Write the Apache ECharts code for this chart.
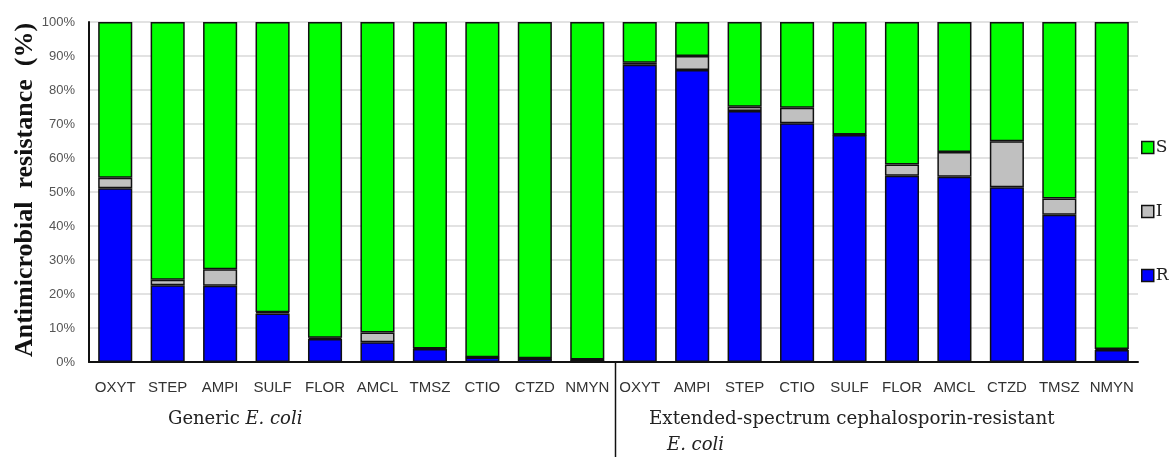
<!DOCTYPE html>
<html>
<head>
<meta charset="utf-8">
<script src="https://cdn.jsdelivr.net/npm/echarts@6/dist/echarts.min.js"></script>
<style>
html,body{margin:0;padding:0;background:#fff;}
#chart{width:1173px;height:457px;}
</style>
</head>
<body>
<div id="chart"></div>
<script>
const categories = ['OXYT','STEP','AMPI','SULF','FLOR','AMCL','TMSZ','CTIO','CTZD','NMYN',
                    'OXYT','AMPI','STEP','CTIO','SULF','FLOR','AMCL','CTZD','TMSZ','NMYN'];
const resistant    = [51.1, 22.6, 22.4, 14.3, 6.8, 5.8, 3.8, 1.3, 1.0, 0.6,
                      87.4, 85.9, 73.8, 70.2, 66.8, 54.8, 54.5, 51.4, 43.3, 3.5];
const intermediate = [3.1, 1.6, 4.9, 0.3, 0.3, 2.9, 0.2, 0.1, 0.1, 0.1,
                      0.6, 4.1, 1.3, 4.6, 0.1, 3.3, 7.3, 13.5, 4.8, 0.3];
const susceptible  = resistant.map((r, i) => +(100 - r - intermediate[i]).toFixed(1));
const yTicks = [0,10,20,30,40,50,60,70,80,90,100];
const groupLabels = ['Generic', 'Extended-spectrum cephalosporin-resistant'];

const chart = echarts.init(document.getElementById('chart'));
const barBorder = {borderColor:'#111', borderWidth:1.5};
const option = {
  animation:false,
  grid:{left:89, right:35, top:22, bottom:95},
  legend:{
    orient:'vertical', left:1136, top:134,
    data:['S','I','R'],
    itemWidth:12, itemHeight:12, itemGap:47,
    icon:'rect',
    itemStyle:{borderColor:'#111', borderWidth:1.5},
    textStyle:{fontFamily:'DejaVu Serif', fontSize:17, color:'#222', padding:[0,0,0,-3]}
  },
  xAxis:{
    type:'category', data:categories, boundaryGap:true,
    axisLine:{lineStyle:{color:'#111', width:2}},
    axisTick:{show:false},
    axisLabel:{interval:0, margin:18, fontFamily:'Liberation Sans', fontSize:15, color:'#333'}
  },
  yAxis:{
    type:'value', min:yTicks[0], max:yTicks[yTicks.length-1], interval:10,
    axisLine:{show:true, lineStyle:{color:'#111', width:2}},
    axisTick:{show:false},
    axisLabel:{formatter:'{value}%', margin:14, fontFamily:'Liberation Sans', fontSize:13, color:'#555'},
    splitLine:{lineStyle:{color:'#d9d9d9', width:1.5}}
  },
  series:[
    {name:'R', type:'bar', stack:'a', data:resistant, barWidth:'65%',
     itemStyle:Object.assign({color:'#0000ff'}, barBorder)},
    {name:'I', type:'bar', stack:'a', data:intermediate, barWidth:'65%',
     itemStyle:Object.assign({color:'#c0c0c0'}, barBorder)},
    {name:'S', type:'bar', stack:'a', data:susceptible, barWidth:'65%',
     itemStyle:Object.assign({color:'#00ff00'}, barBorder)}
  ]
};
chart.setOption(option);

const x9 = chart.convertToPixel({xAxisIndex:0}, 9);
const x10 = chart.convertToPixel({xAxisIndex:0}, 10);
const y0 = chart.convertToPixel({yAxisIndex:0}, 0);
const divX = (x9 + x10) / 2 + 2;

chart.setOption({
  graphic:[
    {type:'text', x:25, y:190, rotation:Math.PI/2,
     style:{text:'Antimicrobial  resistance  (%)', fontFamily:'Liberation Serif', fontWeight:'bold',
            fontSize:26, fill:'#111', align:'center', verticalAlign:'middle'}},
    {type:'line', shape:{x1:divX, y1:y0, x2:divX, y2:457}, style:{stroke:'#111', lineWidth:1.5}},
    {type:'text', x:168, y:419,
     style:{rich:{n:{fontFamily:'DejaVu Serif', fontSize:18, fill:'#222'},
                  i:{fontFamily:'DejaVu Serif', fontSize:18, fontStyle:'italic', fill:'#222'}},
            text:'{n|' + groupLabels[0] + ' }{i|E. coli}', verticalAlign:'middle'}},
    {type:'text', x:649, y:419,
     style:{text:groupLabels[1], fontFamily:'DejaVu Serif', fontSize:18.3, fill:'#222', verticalAlign:'middle'}},
    {type:'text', x:667, y:445,
     style:{text:'E. coli', fontFamily:'DejaVu Serif', fontSize:18, fontStyle:'italic', fill:'#222', verticalAlign:'middle'}}
  ]
});
</script>
</body>
</html>
